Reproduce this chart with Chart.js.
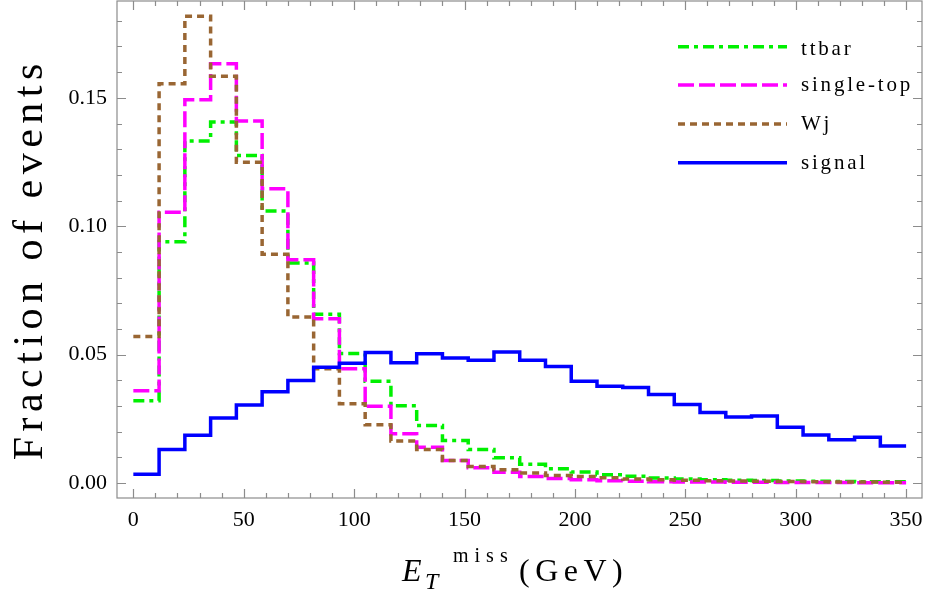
<!DOCTYPE html>
<html>
<head>
<meta charset="utf-8">
<script src="https://cdn.jsdelivr.net/npm/chart.js@4.4.1/dist/chart.umd.min.js"></script>
<style>
  html, body { margin: 0; padding: 0; background: #fff; }
  #wrap { width: 926px; height: 602px; }
  .warm { position: absolute; left: 0; top: 0; opacity: 0; font-family: 'Liberation Serif'; font-size: 20px; }
</style>
</head>
<body>
<div class="warm">Fraction of events 0.15 350 <i>E T</i> (GeV) ttbar single-top Wj signal</div>
<div id="wrap"><canvas id="chart" width="926" height="602"></canvas></div>
<script>
// histogram: 30 bins of equal width between 0 and 350 GeV
const binCount = 30
const binMax = 350
const binEdges = Array.from({ length: binCount + 1 }, (_, i) => i * binMax / binCount)

const ttbar = [0.0321, 0.0940, 0.1332, 0.1406, 0.1275, 0.1059, 0.0857, 0.0657, 0.0505, 0.0397,
    0.0301, 0.0224, 0.0166, 0.0131, 0.0099, 0.0073, 0.0056, 0.0043, 0.0033, 0.0027,
    0.0020, 0.0016, 0.0013, 0.0011, 0.0010, 0.0008, 0.0007, 0.0006, 0.0005, 0.0005]
const singleTop = [0.0360, 0.1055, 0.1493, 0.1633, 0.1410, 0.1146, 0.0870, 0.0640, 0.0445, 0.0299,
    0.0192, 0.0140, 0.0088, 0.0060, 0.0042, 0.0026, 0.0018, 0.0013, 0.0009, 0.0007,
    0.0005, 0.0004, 0.0004, 0.0003, 0.0003, 0.0002, 0.0002, 0.0002, 0.0001, 0.0001]
const wj = [0.0571, 0.1555, 0.1818, 0.1584, 0.1249, 0.0891, 0.0647, 0.0445, 0.0309, 0.0227,
    0.0164, 0.0131, 0.0088, 0.0065, 0.0052, 0.0039, 0.0030, 0.0026, 0.0021, 0.0016,
    0.0013, 0.0011, 0.0009, 0.0008, 0.0007, 0.0006, 0.0005, 0.0004, 0.0004, 0.0003]
const signal = [0.0034, 0.0131, 0.0186, 0.0253, 0.0304, 0.0356, 0.0399, 0.0451, 0.0467, 0.0508,
    0.0469, 0.0504, 0.0487, 0.0478, 0.0510, 0.0478, 0.0454, 0.0397, 0.0377, 0.0372,
    0.0345, 0.0306, 0.0275, 0.0257, 0.0261, 0.0217, 0.0187, 0.0169, 0.0179, 0.0144]

const xTicks = [0, 50, 100, 150, 200, 250, 300, 350]
const yTicks = [0, 0.05, 0.10, 0.15]

const serif = "'Liberation Serif'"
const frameColor = '#8c8c8c'

// left bin edges + closing point at the right edge
function toSteps(values) {
    const pts = values.map((v, i) => ({ x: binEdges[i], y: v }))
    pts.push({ x: binEdges[binCount], y: values[values.length - 1] })
    return pts
}

function line(label, values, color, dash, order) {
    return {
        label: label,
        data: toSteps(values),
        borderColor: color,
        borderWidth: 3.5,
        borderDash: dash,
        stepped: 'before',
        pointRadius: 0,
        fill: false,
        order: order,
    }
}

// glyphs spaced by hand (no ctx.letterSpacing)
function spacedWidth(ctx, text, gap) {
    let w = 0
    for (const ch of text) w += ctx.measureText(ch).width + gap
    return w - gap
}
function spacedText(ctx, text, x, y, gap) {
    for (const ch of text) {
        ctx.fillText(ch, x, y)
        x += ctx.measureText(ch).width + gap
    }
}

const frameTicks = {
    id: 'frameTicks',
    afterDatasetsDraw(chart) {
        const ctx = chart.ctx
        const a = chart.chartArea
        const xs = chart.scales.x
        const ys = chart.scales.y
        ctx.save()
        ctx.strokeStyle = frameColor
        ctx.lineWidth = 1.2
        ctx.strokeRect(a.left, a.top, a.right - a.left, a.bottom - a.top)
        ctx.beginPath()
        for (let v = 0; v <= 350; v += 10) {
            const px = Math.round(xs.getPixelForValue(v)) + 0.5
            const len = v % 50 === 0 ? 9 : 5
            ctx.moveTo(px, a.bottom); ctx.lineTo(px, a.bottom - len)
            ctx.moveTo(px, a.top); ctx.lineTo(px, a.top + len)
        }
        for (let i = 0; i <= 18; i++) {
            const py = Math.round(ys.getPixelForValue(i / 100)) + 0.5
            const len = i % 5 === 0 ? 9 : 5
            ctx.moveTo(a.left, py); ctx.lineTo(a.left + len, py)
            ctx.moveTo(a.right, py); ctx.lineTo(a.right - len, py)
        }
        ctx.stroke()
        ctx.restore()
    },
    afterDraw(chart) {
        const ctx = chart.ctx
        ctx.save()
        ctx.fillStyle = '#000'
        ctx.textAlign = 'left'
        ctx.textBaseline = 'alphabetic'

        // y title, reads bottom to top
        ctx.save()
        ctx.font = '42px ' + serif
        const yt = 'Fraction of events'
        const ytw = spacedWidth(ctx, yt, 5.5)
        ctx.translate(42, 262)
        ctx.rotate(-Math.PI / 2)
        spacedText(ctx, yt, -ytw / 2, 0, 5.5)
        ctx.restore()

        // x title: E_T^miss (GeV)
        const base = 581
        ctx.font = 'italic 32px ' + serif
        ctx.fillText('E', 402, base)
        ctx.font = 'italic 24px ' + serif
        ctx.fillText('T', 425, base + 8)
        ctx.font = '20px ' + serif
        spacedText(ctx, 'miss', 453, base - 19, 6)
        ctx.font = '32px ' + serif
        spacedText(ctx, '(GeV)', 519, base, 5.5)

        // legend
        const rows = [46.7, 85, 124, 162.7]
        ctx.font = '21px ' + serif
        chart.data.datasets.forEach((ds, i) => {
            const y = rows[i]
            ctx.save()
            ctx.strokeStyle = ds.borderColor
            ctx.lineWidth = ds.borderWidth
            ctx.setLineDash(ds.borderDash || [])
            ctx.beginPath()
            ctx.moveTo(678, y)
            ctx.lineTo(787, y)
            ctx.stroke()
            ctx.restore()
            const m = ctx.measureText(ds.label)
            const mid = (m.actualBoundingBoxAscent - m.actualBoundingBoxDescent) / 2
            spacedText(ctx, ds.label, 801, y + 1.5 + mid, 2.8)
        })
        ctx.restore()
    }
}

function draw() {
    new Chart(document.getElementById('chart'), {
        type: 'line',
        data: {
            datasets: [
                line('ttbar', ttbar, 'rgb(0, 240, 0)', [11, 5, 4, 5], 4),
                line('single-top', singleTop, '#ff00ff', [16, 5], 3),
                line('Wj', wj, 'rgb(153, 102, 51)', [7, 5], 2),
                line('signal', signal, '#0000ff', [], 1),
            ]
        },
        options: {
            responsive: false,
            devicePixelRatio: 1,
            animation: false,
            layout: { padding: { left: 0, right: 4, top: 1, bottom: 0 } },
            plugins: {
                legend: { display: false },
                tooltip: { enabled: false },
            },
            scales: {
                x: {
                    type: 'linear',
                    min: -7.4,
                    max: 357.2,
                    grid: { display: false, drawTicks: false },
                    border: { display: false },
                    ticks: {
                        autoSkip: false,
                        maxRotation: 0,
                        padding: 9,
                        color: '#000',
                        font: { family: serif, size: 22 },
                        callback: (v) => String(v),
                    },
                    afterBuildTicks: (s) => { s.ticks = xTicks.map((v) => ({ value: v })) },
                    afterFit: (s) => { s.height = 104; s.paddingLeft = 0; s.paddingRight = 0 },
                },
                y: {
                    type: 'linear',
                    min: -0.0058,
                    max: 0.1877,
                    grid: { display: false, drawTicks: false },
                    border: { display: false },
                    ticks: {
                        autoSkip: false,
                        padding: 10,
                        color: '#000',
                        font: { family: serif, size: 22 },
                        callback: (v) => v.toFixed(2),
                    },
                    afterBuildTicks: (s) => { s.ticks = yTicks.map((v) => ({ value: v })) },
                    afterFit: (s) => { s.width = 117; s.paddingTop = 0; s.paddingBottom = 0 },
                },
            },
        },
        plugins: [frameTicks],
    })
}

Promise.all([
    document.fonts.load("22px 'Liberation Serif'"),
    document.fonts.load("italic 22px 'Liberation Serif'"),
    document.fonts.ready,
]).then(draw, draw)
</script>
</body>
</html>
